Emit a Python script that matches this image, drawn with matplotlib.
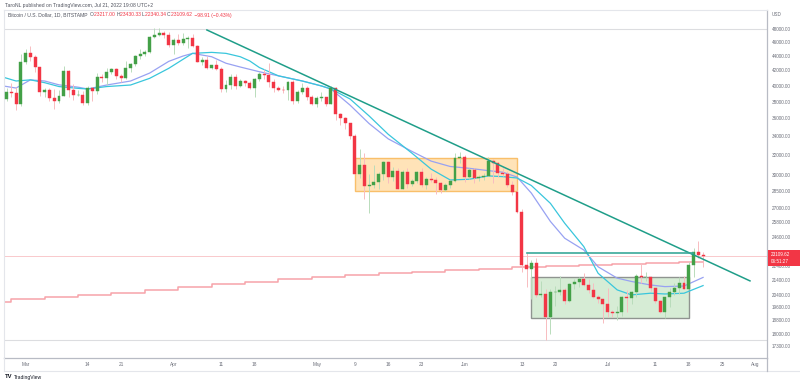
import numpy as np
import pandas as pd
import matplotlib
matplotlib.use('Agg')
import matplotlib.pyplot as plt
import matplotlib.dates as mdates
from matplotlib.patches import Rectangle
from matplotlib.lines import Line2D

plt.rcParams['font.family'] = ['Liberation Sans', 'DejaVu Sans']

# Daily BTCUSD candles (Bitstamp), 2022-02-25 .. 2022-07-21
start_day = '2022-02-25'
opens = [38330, 39220, 39110, 37700,
         43190, 44420, 43910, 42450, 39150, 39400, 38420, 38020, 38740, 41960, 39440, 38780, 38820, 37790, 39680, 39290,
         41140, 40930, 41780, 42200, 41270, 41010, 42370, 42900, 43990, 44310, 44520, 46840, 47130, 47450, 47060,
         45540, 46290, 45820, 46410, 46610, 45510, 43180, 43460, 42270, 42760, 42170, 39520, 40080, 41150, 39940,
         40550, 40380, 39700, 40800, 41500, 41370, 40480, 39700, 39460, 39450, 40430, 38110, 39240, 39740, 38600,
         37650, 38470, 38530, 37730, 39690, 36540, 36020, 35470, 34060, 30080, 31010, 28950, 29030, 29290, 30090,
         31300, 29840, 30420, 28680, 30280, 29170, 29420, 30290, 29080, 29620, 29520, 29210, 28610, 29020, 29450, 31700,
         31780, 29800, 30450, 29670, 29850, 29900, 31370, 31130, 30200, 30100, 29080, 28400, 26590, 22460, 22150,
         22590, 20400, 20460, 19000, 20550, 20560, 20720, 19970, 21100, 21230, 21480, 21040, 20730, 20270, 20100,
         19780, 19270, 19240, 19300, 20230, 20190, 20550, 21640, 21580, 21600, 20850, 19970, 19310, 20220, 20580,
         20830, 21190, 20790, 22430, 23380, 23217.00]
highs = [39700, 40300, 39850, 44230,
         44950, 45400, 44100, 42520, 39650, 39650, 39550, 39400, 42600, 42050, 40250, 39480, 39310, 39930, 39880,
         41700, 41480, 42330, 42400, 42300, 41550, 43360, 43000, 44200, 45070, 44800, 46950, 48150, 48100, 47700, 47590,
         46690, 47190, 47430, 46890, 47200, 45600, 43910, 43960, 42790, 43430, 42420, 40690, 41530, 41500, 40870,
         40710, 40600, 40990, 41750, 42200, 42960, 40800, 39990, 39920, 40600, 40790, 39450, 40370, 39920, 38790,
         38650, 39150, 38620, 39940, 39840, 36660, 36140, 35500, 34240, 32620, 32150, 30050, 31000, 30320, 31410,
         31350, 30750, 30660, 30530, 30730, 29590, 30410, 30650, 29800, 30200, 29820, 29370, 29250, 29520, 32180, 32350,
         31950, 30660, 30650, 29950, 30160, 31750, 31560, 31320, 30660, 30360, 29430, 28540, 26900, 23320, 22800,
         22980, 21350, 20760, 20810, 21000, 21700, 20850, 21200, 21480, 21580, 21860, 21480, 21170, 20400, 20150,
         20880, 19400, 19650, 20290, 20730, 20650, 21810, 22500, 21950, 21620, 20870, 20050, 20250, 20880, 21200,
         21580, 21650, 22700, 23750, 24280, 23430.33]
lows = [38010, 38580, 37000, 37450,
        42850, 43350, 41850, 38650, 38600, 38100, 37150, 37880, 38650, 38550, 38220, 38660, 37580, 37600, 38120,
        38900, 40520, 40140, 41520, 40910, 40520, 40880, 41760, 42590, 43640, 44060, 44410, 46680, 46960, 46590, 45230,
        44240, 45640, 45520, 45140, 45370, 43150, 42740, 42150, 42140, 42000, 39200, 39250, 39570, 39560, 39770,
        40010, 39550, 38560, 40580, 40850, 39760, 39200, 39300, 39000, 38200, 37700, 37880, 38880, 38180, 37600,
        37400, 38050, 37520, 37670, 35830, 35290, 34780, 33710, 30050, 29750, 27800, 26560, 28730, 28670, 29500,
        29190, 29450, 28650, 28680, 28760, 28940, 29230, 28860, 28650, 29300, 28230, 28280, 28490, 28800, 29300, 31200,
        29320, 29570, 29280, 29460, 29480, 29880, 29200, 29850, 29930, 28860, 28100, 26550, 21950, 20900, 20110,
        20240, 20250, 17620, 17970, 19650, 20350, 19800, 19900, 20780, 20940, 21000, 20510, 20200, 19860, 18620,
        18970, 19000, 18780, 19040, 19300, 19780, 20250, 21200, 21340, 20660, 19870, 19240, 18930, 19630, 20400,
        20480, 20750, 20750, 21600, 22950, 22340.34]
closes = [39220, 39110, 37700, 43190,
          44420, 43910, 42450, 39150, 39400, 38420, 38020, 38740, 41960, 39440, 38780, 38820, 37790, 39680, 39290,
          41140, 40930, 41780, 42200, 41270, 41010, 42370, 42900, 43990, 44310, 44520, 46840, 47130, 47450, 47060, 45540,
          46290, 45820, 46410, 46610, 45510, 43180, 43460, 42270, 42760, 42170, 39520, 40080, 41150, 39940, 40550,
          40380, 39700, 40800, 41500, 41370, 40480, 39700, 39460, 39450, 40430, 38110, 39240, 39740, 38600, 37650,
          38470, 38530, 37730, 39690, 36540, 36020, 35470, 34060, 30080, 31010, 28950, 29030, 29290, 30090, 31300,
          29840, 30420, 28680, 30280, 29170, 29420, 30290, 29080, 29620, 29520, 29210, 28610, 29020, 29450, 31700, 31780,
          29800, 30450, 29670, 29850, 29900, 31370, 31130, 30200, 30100, 29080, 28400, 26590, 22460, 22150, 22590,
          20400, 20460, 19000, 20550, 20560, 20720, 19970, 21100, 21230, 21480, 21040, 20730, 20270, 20100, 19780,
          19270, 19240, 19300, 20230, 20190, 20550, 21640, 21580, 21600, 20850, 19970, 19310, 20220, 20580, 20830,
          21190, 20790, 22430, 23380, 23208.53, 23109.62]

# moving averages
ma_fast_dates = ['2022-02-24', '2022-02-27', '2022-03-02', '2022-03-05', '2022-03-08', '2022-03-12', '2022-03-14',
                 '2022-03-18', '2022-03-23', '2022-03-27', '2022-03-31', '2022-04-03', '2022-04-05', '2022-04-09',
                 '2022-04-12', '2022-04-15', '2022-04-19', '2022-04-23', '2022-04-28', '2022-05-02', '2022-05-04',
                 '2022-05-08', '2022-05-12', '2022-05-16', '2022-05-21', '2022-05-25', '2022-05-29', '2022-06-02',
                 '2022-06-06', '2022-06-09', '2022-06-12', '2022-06-15', '2022-06-19', '2022-06-22', '2022-06-26',
                 '2022-06-29', '2022-07-03', '2022-07-06', '2022-07-10', '2022-07-13', '2022-07-17', '2022-07-21']
ma_fast = [39990, 39690, 40750, 40600, 40100, 39800, 39570, 40080, 40600, 41650, 43250, 44000, 44380, 43900,
           42990, 42470, 41830, 41280, 40600, 39960, 39570, 37570, 35400, 33700, 32360, 31370, 30830, 30650,
           30420, 30270, 29800, 28300, 25830, 24470, 23560, 22320, 21520, 21290, 21050, 20940, 20980, 21570]
ma_slow_dates = ['2022-02-24', '2022-02-27', '2022-03-02', '2022-03-05', '2022-03-08', '2022-03-12', '2022-03-14',
                 '2022-03-18', '2022-03-23', '2022-03-27', '2022-03-31', '2022-04-03', '2022-04-05', '2022-04-09',
                 '2022-04-12', '2022-04-15', '2022-04-17', '2022-04-19', '2022-04-23', '2022-04-28', '2022-05-02',
                 '2022-05-04', '2022-05-08', '2022-05-12', '2022-05-16', '2022-05-21', '2022-05-25', '2022-05-29',
                 '2022-06-02', '2022-06-06', '2022-06-09', '2022-06-12', '2022-06-15', '2022-06-19', '2022-06-22',
                 '2022-06-26', '2022-06-29', '2022-07-03', '2022-07-06', '2022-07-10', '2022-07-13', '2022-07-17',
                 '2022-07-21']
ma_slow = [41160, 40600, 40750, 40380, 39880, 39650, 39570, 39880, 40080, 40950, 42290, 43540, 44380, 44520,
           44380, 43900, 43300, 42400, 41280, 40600, 39960, 39570, 38320, 36280, 34200, 32170, 30570, 29520,
           29590, 29910, 29840, 29710, 29000, 27380, 25680, 23820, 21860, 20720, 20390, 20500, 20450, 20500, 21010]

# 200-week MA, one value per week (steps)
wma_start = '2022-02-19'
wma_200 = [19950, 20100, 20230, 20370, 20540, 20720, 20920, 21120, 21280, 21440, 21600,
           21760, 21900, 21970, 22070, 22190, 22290, 22380, 22450, 22520, 22570, 22690]

# drawings
trend_dates = ['2022-04-08 00:00', '2022-07-30 20:00']
trend_prices = [47850, 21330]
hline_dates = ['2022-06-14 00:00', '2022-07-18 22:00']
hline_price = 23340
range_box_dates = ['2022-05-09 00:00', '2022-06-12 00:00']
range_box_prices = [28500, 31700]
base_box_dates = ['2022-06-15 00:00', '2022-07-18 00:00']
base_box_prices = [18910, 21580]
level_lines = [48000, 17620]

y_ticks = [48000, 46000, 44000, 42000, 40000, 38000, 36000, 34000, 32000, 30000, 28500, 27000,
           25800, 24600, 23400, 22400, 21400, 20400, 19600, 18800, 18000, 17300]
x_tick_dates = ['2022-03-01', '2022-03-14', '2022-03-21', '2022-04-01', '2022-04-11', '2022-04-18',
                '2022-05-01', '2022-05-09', '2022-05-16', '2022-05-23', '2022-06-01', '2022-06-13',
                '2022-06-20', '2022-07-01', '2022-07-11', '2022-07-18', '2022-07-25', '2022-08-01']
x_tick_labels = ['Mar', '14', '21', 'Apr', '11', '18', 'May', '9', '16', '23', 'Jun', '13',
                 '20', 'Jul', '11', '18', '25', 'Aug']

W, H = 800, 386
GREEN, RED = '#43a047', '#f23645'


def fx(px):
    return px / W


def fy(py):
    return 1 - py / H


def dnum(strs):
    return mdates.date2num(pd.to_datetime(strs, format='mixed'))


fig = plt.figure(figsize=(8, 3.86), dpi=100)
ax = fig.add_axes([fx(4), fy(358), fx(767) - fx(4), fy(10) - fy(358)])

days = pd.date_range(start_day, periods=len(closes), freq='D')
x = mdates.date2num(days)
o = np.array(opens, dtype=float)
h = np.array(highs, dtype=float)
l = np.array(lows, dtype=float)
c = np.array(closes, dtype=float)
up = c >= o

ax.set_yscale('log')

# boxes
for dts, prs, fc, ec in [(range_box_dates, range_box_prices, '#ffe3b8', '#f9bf6a'),
                         (base_box_dates, base_box_prices, '#d6ecd5', '#8f9490')]:
    x0, x1 = dnum(dts)
    ax.add_patch(Rectangle((x0, prs[0]), x1 - x0, prs[1] - prs[0], facecolor=fc,
                           edgecolor=ec, lw=1.0, zorder=1))

for lv in level_lines:
    ax.axhline(lv, color='#dcdde0', lw=0.8, zorder=1)

# 200W MA
wd = list(mdates.date2num(pd.date_range(wma_start, periods=len(wma_200), freq='7D'))) + [x[-1]]
ax.plot(wd, wma_200 + [wma_200[-1]], drawstyle='steps-post', color='#f7a3a9', lw=1.1, zorder=2)

# MAs
ax.plot(dnum(ma_fast_dates), ma_fast, color='#98a2f2', lw=0.9, zorder=2)
ax.plot(dnum(ma_slow_dates), ma_slow, color='#39c6dc', lw=0.9, zorder=2)

# last price line
ax.axhline(closes[-1], color='#f9c9cc', lw=0.7, zorder=2)

# candles
wick_cols = np.where(up, '#b9dcbb', '#f8bcc0')
ax.vlines(x, l, h, colors=wick_cols, lw=0.7, zorder=3)
body_cols = np.where(up, GREEN, RED)
ax.bar(x, np.abs(c - o), bottom=np.minimum(o, c), width=0.62, color=body_cols,
       edgecolor=body_cols, linewidth=0.3, zorder=4)

# trend lines
ax.plot(dnum(trend_dates), trend_prices, color='#1f9e89', lw=1.1, zorder=5)
ax.plot(dnum(hline_dates), [hline_price, hline_price], color='#3aa99a', lw=1.2, zorder=5)

x_left = mdates.date2num(pd.Timestamp('2022-03-01')) - 4.53
x_right = mdates.date2num(pd.Timestamp('2022-03-01')) + 155.4
ax.set_xlim(x_left, x_right)
ax.set_ylim(16640, 51030)

ax.yaxis.tick_right()
ax.set_yticks(y_ticks)
ax.set_yticklabels(['%.2f' % v for v in y_ticks])
ax.yaxis.set_minor_locator(matplotlib.ticker.NullLocator())
ax.tick_params(axis='y', length=0, pad=3.6, labelsize=3.3, labelcolor='#6a6d78')
for t in ax.get_yticklabels():
    t.set_horizontalalignment('left')
ax.set_xticks(dnum(x_tick_dates))
ax.set_xticklabels(x_tick_labels)
ax.tick_params(axis='x', length=0, pad=2.6, labelsize=3.4, labelcolor='#6a6d78')

for s in ['top', 'left']:
    ax.spines[s].set_color('#e4e6eb')
    ax.spines[s].set_linewidth(0.8)
for s in ['bottom', 'right']:
    ax.spines[s].set_color('#b8bbc4')
    ax.spines[s].set_linewidth(0.9)

# frame of time axis / price axis
fig.add_artist(Line2D([fx(4), fx(800)], [fy(371), fy(371)], color='#e4e6eb', lw=0.8))
fig.add_artist(Line2D([fx(767), fx(767)], [fy(358), fy(371)], color='#b8bbc4', lw=0.9))
fig.add_artist(Line2D([fx(4), fx(4)], [fy(358), fy(371)], color='#e4e6eb', lw=0.8))

# header and legend
fig.text(fx(5), fy(5), 'TaroNL published on TradingView.com, Jul 21, 2022 19:08 UTC+2',
         fontsize=3.6, color='#50535e', va='center')
fig.text(fx(772), fy(15), 'USD', fontsize=3.3, color='#6a6d78', va='center')

chg = closes[-1] - closes[-2]
pct = chg / closes[-2] * 100
gray, red_t = '#50535e', '#f23645'
parts = [('Bitcoin / U.S. Dollar, 1D, BITSTAMP  ', gray),
         ('O', gray), ('%.2f ' % opens[-1], red_t),
         ('H', gray), ('%.2f ' % highs[-1], red_t),
         ('L', gray), ('%.2f ' % lows[-1], red_t),
         ('C', gray), ('%.2f ' % closes[-1], red_t),
         (' \u2212%.2f (\u2212%.2f%%)' % (abs(chg), abs(pct)), red_t)]
renderer = fig.canvas.get_renderer()
cx = fx(8)
for txt, col in parts:
    t = fig.text(cx, fy(15), txt, fontsize=3.6, color=col, va='center')
    bb = t.get_window_extent(renderer=renderer)
    cx += bb.width / W

# price tag
fig.add_artist(Rectangle((fx(768), fy(266)), fx(800) - fx(768), fy(250) - fy(266),
                         transform=fig.transFigure, facecolor='#f23645', edgecolor='none', zorder=10))
fig.text(fx(771), fy(254.5), '%.2f' % closes[-1], fontsize=3.3, color='white', va='center', zorder=11)
fig.text(fx(771), fy(261.5), '06:51:27', fontsize=3.3, color='white', va='center', zorder=11)

# logo
fig.text(fx(5), fy(377), 'TV', fontsize=4.2, color='#131722', fontweight='bold', va='center')
fig.text(fx(14), fy(377), 'TradingView', fontsize=3.6, color='#131722', va='center')

fig.savefig('out.png', dpi=100)
